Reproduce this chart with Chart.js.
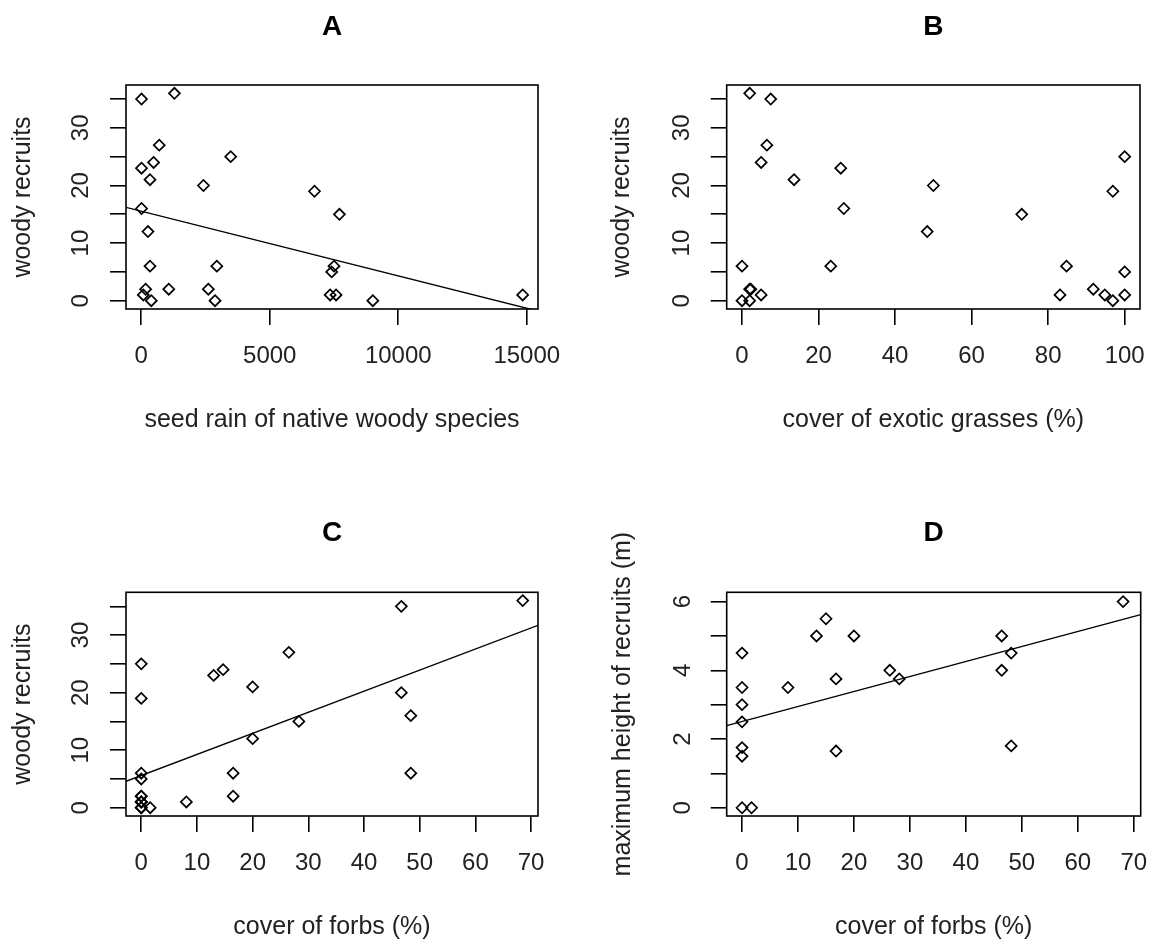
<!DOCTYPE html>
<html lang="en">
<head>
  <meta charset="UTF-8">
  <title>Woody recruits</title>
  <script src="https://cdn.jsdelivr.net/npm/chart.js@4.4.0/dist/chart.umd.min.js"></script>
  <style>
    body { margin: 0; background: #ffffff; overflow: hidden; }
    canvas { position: absolute; }
  </style>
</head>
<body>
  <canvas id="panelA" width="576" height="470" style="left:0;top:0"></canvas>
  <canvas id="panelB" width="576" height="470" style="left:576px;top:0"></canvas>
  <canvas id="panelC" width="576" height="470" style="left:0;top:470px"></canvas>
  <canvas id="panelD" width="576" height="470" style="left:576px;top:470px"></canvas>

  <script>
    // --- data ---
    // A: seed rain vs woody recruits
    const seedRain = [10, 1290, 700, 3480, 480, 10, 340, 2420, 6740, 10, 7710, 260, 340, 2940, 7500, 7410,
                      170, 1070, 2610, 80, 7350, 7580, 14840, 390, 2870, 9010];
    const recruitsA = [35, 36, 27, 25, 24, 23, 21, 20, 19, 16, 15, 12, 6, 6, 6, 5, 2, 2, 2, 1, 1, 1, 1, 0, 0, 0];
    const fitAx = [-594, 15436];
    const fitAy = [16.2, -1.8];

    // B: exotic grass cover vs woody recruits
    const exoticCover = [2, 7.5, 6.5, 5, 25.8, 100, 13.6, 50, 96.9, 26.6, 73.1, 48.4, 0, 23.2, 84.8, 100,
                         2, 2.3, 91.8, 5, 83.1, 94.8, 100, 0, 2, 96.9];
    const recruitsB = [36, 35, 27, 24, 23, 25, 21, 20, 19, 16, 15, 12, 6, 6, 6, 5, 2, 2, 2, 1, 1, 1, 1, 0, 0, 0];

    // C: forb cover vs woody recruits
    const forbsC = [68.5, 46.7, 26.5, 0, 14.7, 13, 20, 46.7, 0, 48.4, 28.3, 20, 0, 16.5, 48.4, 0,
                    0, 0, 16.5, 0, 0, 0, 8.1, 0, 0, 1.6];
    const recruitsC = [36, 35, 27, 25, 24, 23, 21, 20, 19, 16, 15, 12, 6, 6, 6, 5, 2, 2, 2, 1, 1, 1, 1, 0, 0, 0];
    const fitCx = [-2.74, 71.24];
    const fitCy = [4.6, 31.7];

    // D: forb cover vs maximum height of recruits
    const forbsD = [68.1, 15, 13.3, 20, 46.4, 0, 48.1, 26.4, 46.4, 16.8, 28.1, 0, 8.2, 0, 0, 48.1, 0, 16.8, 0, 0, 1.7];
    const heightD = [6, 5.5, 5, 5, 5, 4.5, 4.5, 4, 4, 3.75, 3.75, 3.5, 3.5, 3, 2.5, 1.8, 1.75, 1.65, 1.5, 0, 0];
    const fitDx = [-2.74, 71.24];
    const fitDy = [2.39, 5.62];

    // tick values and which ones carry a label
    const ticksRecruits = [0, 5, 10, 15, 20, 25, 30, 35];
    const labelsRecruits = [0, 10, 20, 30];
    const ticksSeed = [0, 5000, 10000, 15000];
    const ticksExotic = [0, 20, 40, 60, 80, 100];
    const ticksForbs = [0, 10, 20, 30, 40, 50, 60, 70];
    const ticksHeight = [0, 1, 2, 3, 4, 5, 6];
    const labelsHeight = [0, 2, 4, 6];

    Chart.defaults.animation = false;
    const FONT = "'Liberation Sans', Arial, sans-serif";
    const TXT = '#222222';

    // draw the box round the plot region, like R's bty="o"
    const framePlugin = {
      id: 'frame',
      afterDatasetsDraw(chart) {
        const a = chart.chartArea;
        const ctx = chart.ctx;
        ctx.save();
        ctx.strokeStyle = '#000';
        ctx.lineWidth = 1.6;
        ctx.strokeRect(a.left, a.top, a.right - a.left, a.bottom - a.top);
        ctx.restore();
      }
    };

    function makePanel(id, p) {
      const W = 576, H = 470;
      const datasets = [{
        data: p.x.map((v, i) => ({ x: v, y: p.y[i] })),
        pointStyle: 'rectRot',
        pointRadius: 5.5,
        pointHoverRadius: 5.5,
        borderColor: '#000',
        backgroundColor: 'rgba(0,0,0,0)',
        borderWidth: 1.7
      }];
      if (p.fitX) {
        datasets.push({
          data: p.fitX.map((v, i) => ({ x: v, y: p.fitY[i] })),
          showLine: true,
          pointRadius: 0,
          borderColor: '#000',
          borderWidth: 1.4
        });
      }
      const widest = p.yDigits * 13.35;
      new Chart(document.getElementById(id), {
        type: 'scatter',
        data: { datasets },
        plugins: [framePlugin],
        options: {
          responsive: false,
          layout: { autoPadding: false, padding: { left: 0, top: 0, bottom: 0, right: W - p.area.right } },
          plugins: {
            legend: { display: false },
            tooltip: { enabled: false },
            title: {
              display: true,
              text: p.title,
              fullSize: false,
              color: '#000',
              font: { family: FONT, size: 28, weight: 'bold', lineHeight: 1.2 },
              padding: { top: p.titleY - 16.8, bottom: p.area.top - p.titleY - 16.8 }
            }
          },
          scales: {
            x: {
              type: 'linear',
              min: p.xMin, max: p.xMax,
              afterBuildTicks: s => { s.ticks = p.xTicks.map(v => ({ value: v })); },
              afterFit: s => { s.height = H - p.area.bottom; s.paddingLeft = 0; s.paddingRight = 0; },
              border: { display: false },
              grid: { drawOnChartArea: false, drawTicks: true, tickLength: 16, color: '#000', lineWidth: 1.6 },
              ticks: {
                autoSkip: false, minRotation: 0, maxRotation: 0,
                padding: p.xLabelY - p.area.bottom - 16 - 12,
                color: TXT,
                font: { family: FONT, size: 24, lineHeight: 1 },
                callback: v => String(v)
              },
              title: {
                display: true, text: p.xTitle, color: TXT,
                font: { family: FONT, size: 25, lineHeight: 1 },
                padding: { top: 0, bottom: H - 12.5 - p.xTitleY }
              }
            },
            y: {
              type: 'linear',
              min: p.yMin, max: p.yMax,
              afterBuildTicks: s => { s.ticks = p.yTicks.map(v => ({ value: v })); },
              afterFit: s => { s.width = p.area.left; s.paddingTop = 0; s.paddingBottom = 0; },
              border: { display: false },
              grid: { drawOnChartArea: false, drawTicks: true, tickLength: 16, color: '#000', lineWidth: 1.6 },
              ticks: {
                autoSkip: false, minRotation: 90, maxRotation: 90,
                crossAlign: 'center',
                padding: p.area.left - 16 - p.yLabelX - widest / 2,
                color: TXT,
                font: { family: FONT, size: 24, lineHeight: 1 },
                callback: v => (p.yLabels.includes(v) ? String(v) : '')
              },
              title: {
                display: true, text: p.yTitle, color: TXT,
                font: { family: FONT, size: 25, lineHeight: 1 },
                padding: { top: p.yTitleX - 12.5, bottom: 0 }
              }
            }
          }
        }
      });
    }

    makePanel('panelA', {
      title: 'A', x: seedRain, y: recruitsA, fitX: fitAx, fitY: fitAy,
      xMin: -594, xMax: 15436, yMin: -1.44, yMax: 37.44,
      xTicks: ticksSeed, yTicks: ticksRecruits, yLabels: labelsRecruits, yDigits: 2,
      xTitle: 'seed rain of native woody species', yTitle: 'woody recruits',
      area: { left: 126, right: 538, top: 85, bottom: 309 },
      titleY: 27, yTitleX: 23, yLabelX: 81, xLabelY: 356, xTitleY: 420
    });

    makePanel('panelB', {
      title: 'B', x: exoticCover, y: recruitsB,
      xMin: -4, xMax: 104, yMin: -1.44, yMax: 37.44,
      xTicks: ticksExotic, yTicks: ticksRecruits, yLabels: labelsRecruits, yDigits: 2,
      xTitle: 'cover of exotic grasses (%)', yTitle: 'woody recruits',
      area: { left: 150.7, right: 564, top: 85, bottom: 309 },
      titleY: 27, yTitleX: 46, yLabelX: 106, xLabelY: 356, xTitleY: 420
    });

    makePanel('panelC', {
      title: 'C', x: forbsC, y: recruitsC, fitX: fitCx, fitY: fitCy,
      xMin: -2.74, xMax: 71.24, yMin: -1.44, yMax: 37.44,
      xTicks: ticksForbs, yTicks: ticksRecruits, yLabels: labelsRecruits, yDigits: 2,
      xTitle: 'cover of forbs (%)', yTitle: 'woody recruits',
      area: { left: 126, right: 538, top: 122.3, bottom: 346 },
      titleY: 63, yTitleX: 23, yLabelX: 81, xLabelY: 393, xTitleY: 457
    });

    makePanel('panelD', {
      title: 'D', x: forbsD, y: heightD, fitX: fitDx, fitY: fitDy,
      xMin: -2.74, xMax: 71.24, yMin: -0.24, yMax: 6.27,
      xTicks: ticksForbs, yTicks: ticksHeight, yLabels: labelsHeight, yDigits: 1,
      xTitle: 'cover of forbs (%)', yTitle: 'maximum height of recruits (m)',
      area: { left: 150.7, right: 564.7, top: 122.3, bottom: 346 },
      titleY: 63, yTitleX: 47, yLabelX: 107, xLabelY: 393, xTitleY: 457
    });
  </script>
</body>
</html>
